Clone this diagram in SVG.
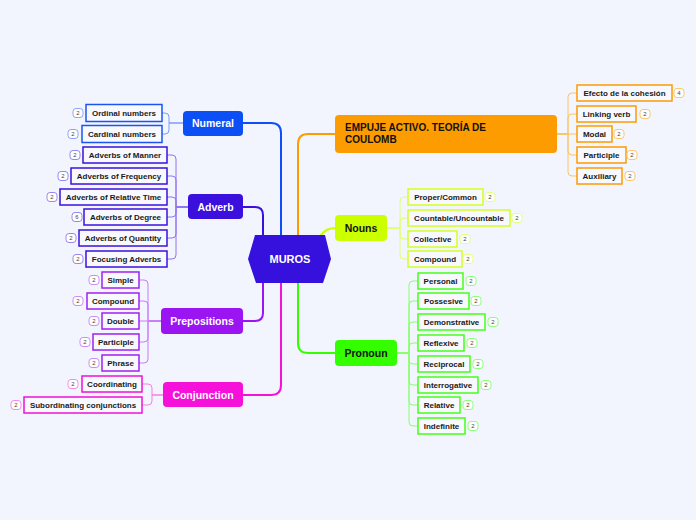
<svg xmlns="http://www.w3.org/2000/svg" width="696" height="520" viewBox="0 0 696 520">
<style>
text{font-family:"Liberation Sans",Arial,sans-serif;font-weight:bold}
.main{font-size:10.5px;text-anchor:middle}
.kid{font-size:8px;text-anchor:middle;fill:#1a1a1a}
.bt{font-size:6px;text-anchor:middle;fill:#444;font-weight:normal}
.c{fill:none}
.k{fill:#f8f9ff;stroke-width:1.5}
.b{fill:#fff;stroke-width:1}
</style>
<rect width="696" height="520" fill="#f3f5fe"/>
<g id="connectors" class="c">
<g stroke-width="2">
<path d="M243,123 H271 Q281,123 281,133 V236" stroke="#0c4ff5"/>
<path d="M243,207 H255 Q263,207 263,215 V236" stroke="#3b10dc"/>
<path d="M243,321 H255 Q263,321 263,313 V282" stroke="#9b14f2"/>
<path d="M243,395 H271 Q281,395 281,385 V282" stroke="#f511d9"/>
<path d="M335,134 H308 Q298,134 298,144 V236" stroke="#fd9c00"/>
<path d="M335,353 H308 Q298,353 298,343 V282" stroke="#33ff00"/>
<path d="M320,236 C325,230 328,228 336,228" stroke="#ccff00"/>
</g>
<g stroke-width="1">
<g stroke="#7c9cf7">
<path d="M183,123 H169 V117 Q169,113 165,113 H162"/>
<path d="M183,123 H169 V130 Q169,134 165,134 H162"/>
</g>
<g stroke="#8e74ee">
<path d="M188,207 H176 V159 Q176,155 172,155 H167"/>
<path d="M188,207 H176 V180 Q176,176 172,176 H167"/>
<path d="M188,207 H176 V201 Q176,197 172,197 H167"/>
<path d="M188,207 H176 V213 Q176,217 172,217 H167"/>
<path d="M188,207 H176 V234 Q176,238 172,238 H167"/>
<path d="M188,207 H176 V255 Q176,259 172,259 H167"/>
</g>
<g stroke="#c77cf5">
<path d="M161,321 H148 V284 Q148,280 144,280 H139"/>
<path d="M161,321 H148 V305 Q148,301 144,301 H139"/>
<path d="M161,321 H139"/>
<path d="M161,321 H148 V338 Q148,342 144,342 H139"/>
<path d="M161,321 H148 V359 Q148,363 144,363 H139"/>
</g>
<g stroke="#f77ce6">
<path d="M163,395 H152 V388 Q152,384 148,384 H142"/>
<path d="M163,395 H152 V401 Q152,405 148,405 H142"/>
</g>
<g stroke="#fcc366">
<path d="M557,134 H568 V97 Q568,93 572,93 H577"/>
<path d="M557,134 H568 V118 Q568,114 572,114 H577"/>
<path d="M557,134 H577"/>
<path d="M557,134 H568 V151 Q568,155 572,155 H577"/>
<path d="M557,134 H568 V172 Q568,176 572,176 H577"/>
</g>
<g stroke="#e2ff6e">
<path d="M387,228 H400 V201 Q400,197 404,197 H408"/>
<path d="M387,228 H400 V222 Q400,218 404,218 H408"/>
<path d="M387,228 H400 V235 Q400,239 404,239 H408"/>
<path d="M387,228 H400 V255 Q400,259 404,259 H408"/>
</g>
<g stroke="#88ff70">
<path d="M397,353 H409 V285 Q409,281 413,281 H418"/>
<path d="M397,353 H409 V305 Q409,301 413,301 H418"/>
<path d="M397,353 H409 V326 Q409,322 413,322 H418"/>
<path d="M397,353 H409 V347 Q409,343 413,343 H418"/>
<path d="M397,353 H409 V360 Q409,364 413,364 H418"/>
<path d="M397,353 H409 V381 Q409,385 413,385 H418"/>
<path d="M397,353 H409 V401 Q409,405 413,405 H418"/>
<path d="M397,353 H409 V422 Q409,426 413,426 H418"/>
</g>
</g>
</g>

<g id="center">
<polygon points="255,235 325,235 331,259 323,283 256,283 248,259" fill="#3610dc"/>
<text x="290" y="263" font-size="11" fill="#fff" text-anchor="middle">MUROS</text>
</g>

<g id="numeral">
<rect x="183" y="111" width="60" height="25" rx="4" fill="#0c4ff5"/>
<text class="main" x="213" y="127" fill="#fff">Numeral</text>
</g>
<g id="adverb">
<rect x="188" y="194" width="55" height="25" rx="4" fill="#3b10dc"/>
<text class="main" x="215.5" y="210.5" fill="#fff">Adverb</text>
</g>
<g id="prepositions">
<rect x="161" y="308" width="82" height="26" rx="4" fill="#9b14f2"/>
<text class="main" x="202" y="324.5" fill="#fff">Prepositions</text>
</g>
<g id="conjunction">
<rect x="163" y="382" width="80" height="25" rx="4" fill="#f511d9"/>
<text class="main" x="203" y="398.5" fill="#fff">Conjunction</text>
</g>
<g id="empuje">
<rect x="335" y="115" width="222" height="38" rx="4" fill="#fd9c00"/>
<text x="345" y="131" font-size="10" fill="#111">EMPUJE ACTIVO. TEORÍA DE</text>
<text x="345" y="143" font-size="10" fill="#111">COULOMB</text>
</g>
<g id="nouns">
<rect x="335" y="215" width="52" height="26" rx="4" fill="#ccff00"/>
<text class="main" x="361" y="231.5" fill="#111">Nouns</text>
</g>
<g id="pronoun">
<rect x="335" y="340" width="62" height="26" rx="4" fill="#33ff00"/>
<text class="main" x="366" y="356.5" fill="#111">Pronoun</text>
</g>

<!-- Numeral children -->
<g stroke="#1a55f0">
<g id="n1"><rect class="k" x="86" y="104.5" width="76" height="17"/><rect class="b" x="73" y="108.5" width="10" height="9" rx="3" stroke="#8aa6f7"/></g>
<g id="n2"><rect class="k" x="82" y="125.5" width="80" height="17"/><rect class="b" x="68" y="129.5" width="10" height="9" rx="3" stroke="#8aa6f7"/></g>
</g>
<text class="kid" x="124" y="116">Ordinal numbers</text><text class="bt" x="78" y="115">2</text>
<text class="kid" x="122" y="137">Cardinal numbers</text><text class="bt" x="73" y="136">2</text>

<!-- Adverb children -->
<g stroke="#3b10dc">
<g id="a1"><rect class="k" x="83" y="147" width="84" height="16"/><rect class="b" x="70" y="150.5" width="10" height="9" rx="3" stroke="#9a86ee"/></g>
<g id="a2"><rect class="k" x="71" y="168" width="96" height="16"/><rect class="b" x="58" y="171.5" width="10" height="9" rx="3" stroke="#9a86ee"/></g>
<g id="a3"><rect class="k" x="60" y="189" width="107" height="16"/><rect class="b" x="47" y="192.5" width="10" height="9" rx="3" stroke="#9a86ee"/></g>
<g id="a4"><rect class="k" x="84" y="209" width="83" height="16"/><rect class="b" x="72" y="212.5" width="10" height="9" rx="3" stroke="#9a86ee"/></g>
<g id="a5"><rect class="k" x="79" y="230" width="88" height="16"/><rect class="b" x="66" y="233.5" width="10" height="9" rx="3" stroke="#9a86ee"/></g>
<g id="a6"><rect class="k" x="86" y="251" width="81" height="16"/><rect class="b" x="73" y="254.5" width="10" height="9" rx="3" stroke="#9a86ee"/></g>
</g>
<text class="kid" x="125" y="158">Adverbs of Manner</text><text class="bt" x="75" y="157">2</text>
<text class="kid" x="119" y="179">Adverbs of Frequency</text><text class="bt" x="63" y="178">2</text>
<text class="kid" x="113.5" y="200">Adverbs of Relative Time</text><text class="bt" x="52" y="199">2</text>
<text class="kid" x="125.5" y="220">Adverbs of Degree</text><text class="bt" x="77" y="219">6</text>
<text class="kid" x="123" y="241">Adverbs of Quantity</text><text class="bt" x="71" y="240">2</text>
<text class="kid" x="126.5" y="262">Focusing Adverbs</text><text class="bt" x="78" y="261">2</text>

<!-- Prepositions children -->
<g stroke="#a020f0">
<g id="p1"><rect class="k" x="102" y="272" width="37" height="16"/><rect class="b" x="89" y="275.5" width="10" height="9" rx="3" stroke="#cc8cf5"/></g>
<g id="p2"><rect class="k" x="87" y="293" width="52" height="16"/><rect class="b" x="73" y="296.5" width="10" height="9" rx="3" stroke="#cc8cf5"/></g>
<g id="p3"><rect class="k" x="102" y="313" width="37" height="16"/><rect class="b" x="89" y="316.5" width="10" height="9" rx="3" stroke="#cc8cf5"/></g>
<g id="p4"><rect class="k" x="93" y="334" width="46" height="16"/><rect class="b" x="80" y="337.5" width="10" height="9" rx="3" stroke="#cc8cf5"/></g>
<g id="p5"><rect class="k" x="102" y="355" width="37" height="16"/><rect class="b" x="89" y="358.5" width="10" height="9" rx="3" stroke="#cc8cf5"/></g>
</g>
<text class="kid" x="120.5" y="283">Simple</text><text class="bt" x="94" y="282">2</text>
<text class="kid" x="113" y="304">Compound</text><text class="bt" x="78" y="303">2</text>
<text class="kid" x="120.5" y="324">Double</text><text class="bt" x="94" y="323">2</text>
<text class="kid" x="116" y="345">Participle</text><text class="bt" x="85" y="344">2</text>
<text class="kid" x="120.5" y="366">Phrase</text><text class="bt" x="94" y="365">2</text>

<!-- Conjunction children -->
<g stroke="#f010d8">
<g id="cj1"><rect class="k" x="82" y="376" width="60" height="16"/><rect class="b" x="68" y="379.5" width="10" height="9" rx="3" stroke="#f58ce8"/></g>
<g id="cj2"><rect class="k" x="24" y="397" width="118" height="16"/><rect class="b" x="11" y="400.5" width="10" height="9" rx="3" stroke="#f58ce8"/></g>
</g>
<text class="kid" x="112" y="387">Coordinating</text><text class="bt" x="73" y="386">2</text>
<text class="kid" x="83" y="408">Subordinating conjunctions</text><text class="bt" x="16" y="407">2</text>

<!-- EMPUJE children -->
<g stroke="#fb9a04">
<g id="e1"><rect class="k" x="577" y="85" width="95" height="16"/><rect class="b" x="674" y="88.5" width="10" height="9" rx="3" stroke="#fcc56e"/></g>
<g id="e2"><rect class="k" x="577" y="106" width="59" height="16"/><rect class="b" x="640" y="109.5" width="10" height="9" rx="3" stroke="#fcc56e"/></g>
<g id="e3"><rect class="k" x="577" y="126" width="35" height="16"/><rect class="b" x="614" y="129.5" width="10" height="9" rx="3" stroke="#fcc56e"/></g>
<g id="e4"><rect class="k" x="577" y="147" width="49" height="16"/><rect class="b" x="627" y="150.5" width="10" height="9" rx="3" stroke="#fcc56e"/></g>
<g id="e5"><rect class="k" x="577" y="168" width="45" height="16"/><rect class="b" x="625" y="171.5" width="10" height="9" rx="3" stroke="#fcc56e"/></g>
</g>
<text class="kid" x="624.5" y="96">Efecto de la cohesión</text><text class="bt" x="679" y="95">4</text>
<text class="kid" x="606.5" y="117">Linking verb</text><text class="bt" x="645" y="116">2</text>
<text class="kid" x="594.5" y="137">Modal</text><text class="bt" x="619" y="136">2</text>
<text class="kid" x="601.5" y="158">Participle</text><text class="bt" x="632" y="157">2</text>
<text class="kid" x="599.5" y="179">Auxiliary</text><text class="bt" x="630" y="178">2</text>

<!-- Nouns children -->
<g stroke="#d4ff22">
<g id="no1"><rect class="k" x="408" y="189" width="75" height="16"/><rect class="b" x="485" y="192.5" width="10" height="9" rx="3" stroke="#e4ff80"/></g>
<g id="no2"><rect class="k" x="408" y="210" width="102" height="16"/><rect class="b" x="512" y="213.5" width="10" height="9" rx="3" stroke="#e4ff80"/></g>
<g id="no3"><rect class="k" x="408" y="231" width="49" height="16"/><rect class="b" x="460" y="234.5" width="10" height="9" rx="3" stroke="#e4ff80"/></g>
<g id="no4"><rect class="k" x="408" y="251" width="54" height="16"/><rect class="b" x="463" y="254.5" width="10" height="9" rx="3" stroke="#e4ff80"/></g>
</g>
<text class="kid" x="445.5" y="200">Proper/Common</text><text class="bt" x="490" y="199">2</text>
<text class="kid" x="459" y="221">Countable/Uncountable</text><text class="bt" x="517" y="220">2</text>
<text class="kid" x="432.5" y="242">Collective</text><text class="bt" x="465" y="241">2</text>
<text class="kid" x="435" y="262">Compound</text><text class="bt" x="468" y="261">2</text>

<!-- Pronoun children -->
<g stroke="#44ff18">
<g id="pr1"><rect class="k" x="418" y="273" width="45" height="16"/><rect class="b" x="466" y="276.5" width="10" height="9" rx="3" stroke="#8cff78"/></g>
<g id="pr2"><rect class="k" x="418" y="293" width="51" height="16"/><rect class="b" x="471" y="296.5" width="10" height="9" rx="3" stroke="#8cff78"/></g>
<g id="pr3"><rect class="k" x="418" y="314" width="67" height="16"/><rect class="b" x="488" y="317.5" width="10" height="9" rx="3" stroke="#8cff78"/></g>
<g id="pr4"><rect class="k" x="418" y="335" width="46" height="16"/><rect class="b" x="467" y="338.5" width="10" height="9" rx="3" stroke="#8cff78"/></g>
<g id="pr5"><rect class="k" x="418" y="356" width="52" height="16"/><rect class="b" x="473" y="359.5" width="10" height="9" rx="3" stroke="#8cff78"/></g>
<g id="pr6"><rect class="k" x="418" y="377" width="60" height="16"/><rect class="b" x="481" y="380.5" width="10" height="9" rx="3" stroke="#8cff78"/></g>
<g id="pr7"><rect class="k" x="418" y="397" width="42" height="16"/><rect class="b" x="463" y="400.5" width="10" height="9" rx="3" stroke="#8cff78"/></g>
<g id="pr8"><rect class="k" x="418" y="418" width="47" height="16"/><rect class="b" x="468" y="421.5" width="10" height="9" rx="3" stroke="#8cff78"/></g>
</g>
<text class="kid" x="440.5" y="284">Personal</text><text class="bt" x="471" y="283">2</text>
<text class="kid" x="443.5" y="304">Possesive</text><text class="bt" x="476" y="303">2</text>
<text class="kid" x="451.5" y="325">Demonstrative</text><text class="bt" x="493" y="324">2</text>
<text class="kid" x="441" y="346">Reflexive</text><text class="bt" x="472" y="345">2</text>
<text class="kid" x="444" y="367">Reciprocal</text><text class="bt" x="478" y="366">2</text>
<text class="kid" x="448" y="388">Interrogative</text><text class="bt" x="486" y="387">2</text>
<text class="kid" x="439" y="408">Relative</text><text class="bt" x="468" y="407">2</text>
<text class="kid" x="441.5" y="429">Indefinite</text><text class="bt" x="473" y="428">2</text>
</svg>
